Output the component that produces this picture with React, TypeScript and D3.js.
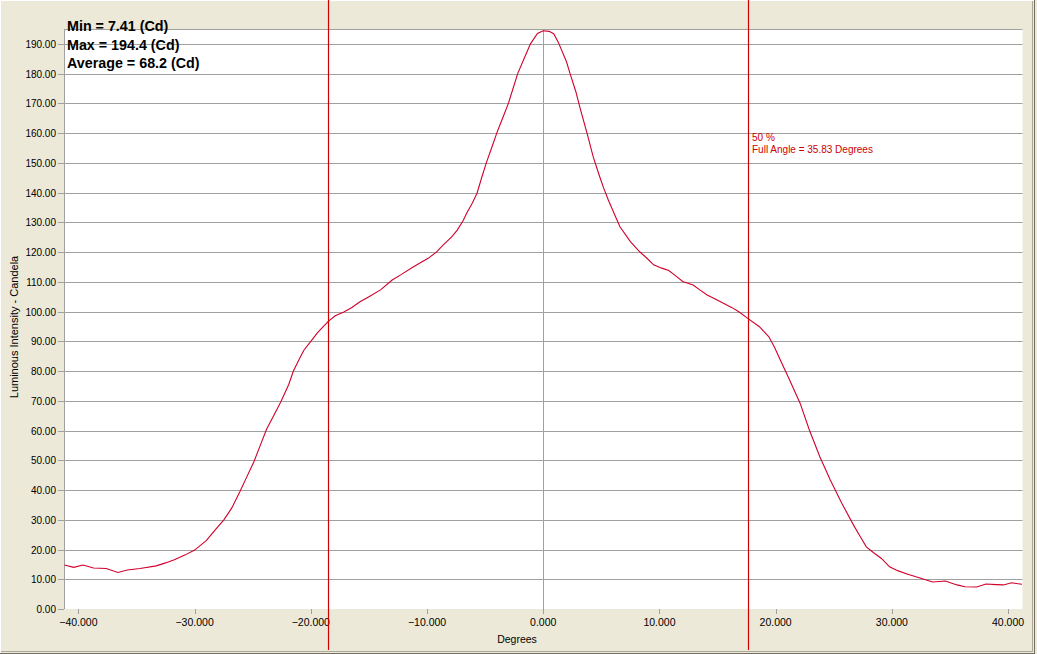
import { useMemo } from 'react';
import * as d3 from 'd3';

// angle in degrees and luminous intensity in candela
const angles = [
  -41.2, -40.4, -39.6, -38.7, -37.6, -36.6, -35.8, -34.7, -33.3, -32.5, -31.8, -30.8, -30.0, -29.0, -28.1, -27.5,
  -26.8, -26.1, -25.5, -24.9, -24.3, -23.8, -23.2, -22.6, -21.9, -21.5, -21.0, -20.6, -20.0, -19.4, -18.5, -17.9,
  -17.2, -16.5, -15.8, -15.0, -14.0, -13.0, -12.2, -11.2, -10.5, -9.9, -9.2, -8.6, -7.9, -7.4, -6.9, -6.6, -6.1,
  -5.7, -5.3, -4.9, -4.4, -4.0, -3.5, -3.0, -2.6, -2.2, -1.6, -1.1, -0.5, 0.0, 0.5, 0.9, 1.3, 2.0, 2.3, 2.8, 3.2,
  3.8, 4.3, 4.8, 5.2, 5.6, 6.1, 6.6, 7.5, 8.3, 8.9, 9.5, 10.2, 10.8, 11.4, 12.0, 12.9, 13.5, 14.1, 14.8, 15.5,
  16.2, 16.8, 17.6, 18.6, 19.4, 19.9, 20.4, 21.2, 22.1, 22.9, 23.8, 24.7, 25.7, 26.7, 27.3, 27.8, 28.4, 29.1,
  29.8, 30.5, 31.3, 32.0, 32.7, 33.5, 34.6, 35.6, 36.3, 37.3, 38.1, 39.0, 39.6, 40.3, 41.2,
];
const intensity = [
  14.8, 14.0, 14.8, 13.8, 13.6, 12.3, 13.1, 13.6, 14.5, 15.5, 16.5, 18.2, 19.8, 23.0, 27.2, 29.9,
  34.0, 39.5, 44.5, 49.5, 55.5, 60.5, 65.0, 69.5, 75.5, 80.0, 84.0, 87.0, 90.0, 93.0, 96.7, 98.6,
  99.8, 101.3, 103.2, 105.0, 107.3, 110.6, 112.5, 115.0, 116.6, 117.9, 120.0, 122.4, 125.0, 127.4, 130.5, 133.0, 136.5,
  139.8, 145.0, 150.0, 155.5, 160.0, 165.0, 170.0, 175.0, 180.0, 185.5, 190.0, 193.5, 194.4, 194.2, 193.4, 190.5, 184.0, 180.1, 174.0, 168.0,
  159.5, 152.0, 146.0, 141.5, 137.5, 133.0, 128.5, 123.5, 120.1, 118.0, 115.7, 114.6, 113.8, 112.0, 110.1, 108.9, 107.2, 105.6, 104.2, 102.8,
  101.4, 100.0, 97.7, 94.9, 91.6, 88.0, 83.7, 77.0, 69.2, 60.2, 51.2, 43.4, 35.5, 28.2, 24.2, 20.9, 19.0, 17.0,
  14.2, 12.9, 11.8, 10.9, 10.1, 9.1, 9.4, 8.1, 7.5, 7.4, 8.4, 8.2, 8.1, 8.8, 8.3,
];

const xTicks = [-40, -30, -20, -10, 0, 10, 20, 30, 40];
const yTicks = [0, 10, 20, 30, 40, 50, 60, 70, 80, 90, 100, 110, 120, 130, 140, 150, 160, 170, 180, 190];
const halfAngles = [-18.5, 17.6];
const statLines = ['Min = 7.41 (Cd)', 'Max = 194.4 (Cd)', 'Average = 68.2 (Cd)'];
const noteLines = ['50 %', 'Full Angle = 35.83 Degrees'];

const W = 1037;
const H = 654;
const plot = { left: 64, right: 1022.5, top: 29, bottom: 609 };
const font = '"Liberation Sans", Arial, sans-serif';

export default function App() {
  const x = useMemo(() => d3.scaleLinear().domain([-41.24, 41.24]).range([plot.left, plot.right]), []);
  const y = useMemo(() => d3.scaleLinear().domain([0, 195]).range([plot.bottom, plot.top]), []);
  const pts = angles.map((a, i) => [a, intensity[i]] as [number, number]);
  const line = d3.line<[number, number]>().x((d) => x(d[0])).y((d) => y(d[1]));
  const fy = d3.format('.2f');
  const fx = d3.format('.3f');

  return (
    <svg width={W} height={H} style={{ position: 'absolute', left: 0, top: 0, display: 'block' }} fontFamily={font}>
      <rect width={W} height={H} fill="#ece9d8" />
      <line x1={0} x2={1034} y1={0.5} y2={0.5} stroke="#ffffff" />
      <line x1={0.5} x2={0.5} y1={0} y2={653} stroke="#ffffff" />
      <line x1={1032.5} x2={1032.5} y1={1} y2={652} stroke="#aca899" />
      <line x1={1034.5} x2={1034.5} y1={0} y2={654} stroke="#716f64" />
      <line x1={1} x2={1033} y1={651.5} y2={651.5} stroke="#aca899" />
      <line x1={0} x2={1035} y1={653.5} y2={653.5} stroke="#716f64" />

      <rect x={plot.left} y={plot.top} width={plot.right - plot.left} height={plot.bottom - plot.top} fill="#ffffff" />
      <line x1={plot.left} x2={plot.right} y1={plot.top + 0.5} y2={plot.top + 0.5} stroke="#a0a0a0" />
      <line x1={plot.left + 0.5} x2={plot.left + 0.5} y1={plot.top} y2={plot.bottom} stroke="#a0a0a0" />

      {yTicks.map((t) => (
        <g key={t}>
          {t > 0 && (
            <line x1={plot.left} x2={plot.right} y1={Math.round(y(t)) + 0.5} y2={Math.round(y(t)) + 0.5} stroke="#a0a0a0" />
          )}
          <line x1={58} x2={plot.left} y1={Math.round(y(t)) + 0.5} y2={Math.round(y(t)) + 0.5} stroke="#a0a0a0" />
          <text x={56} y={Math.round(y(t)) + 4} fontSize={10} textAnchor="end" fill="#000">
            {fy(t)}
          </text>
        </g>
      ))}
      <line x1={Math.round(x(0)) + 0.5} x2={Math.round(x(0)) + 0.5} y1={plot.top} y2={plot.bottom} stroke="#a0a0a0" />

      {xTicks.map((t) => (
        <g key={t}>
          <line x1={Math.round(x(t)) + 0.5} x2={Math.round(x(t)) + 0.5} y1={plot.bottom} y2={plot.bottom + 5} stroke="#a0a0a0" />
          <text x={x(t)} y={626} fontSize={10.5} textAnchor="middle" fill="#000">
            {fx(t)}
          </text>
        </g>
      ))}

      <path d={line(pts) ?? ''} fill="none" stroke="#d0002a" strokeWidth={1.1} />

      {halfAngles.map((a) => (
        <line key={a} x1={Math.round(x(a)) + 0.5} x2={Math.round(x(a)) + 0.5} y1={0} y2={650} stroke="#d00000" strokeWidth={1.2} />
      ))}

      {noteLines.map((s, i) => (
        <text key={s} x={752} y={141 + i * 12} fontSize={10} fill="#cc0000">
          {s}
        </text>
      ))}

      {statLines.map((s, i) => (
        <text key={s} x={67} y={31 + i * 18.5} fontSize={14.3} fontWeight="bold" fill="#000">
          {s}
        </text>
      ))}

      <text x={517} y={643} fontSize={10.5} textAnchor="middle" fill="#000">
        Degrees
      </text>
      <text transform="translate(18,327) rotate(-90)" fontSize={11} textAnchor="middle" fill="#000">
        Luminous Intensity - Candela
      </text>
    </svg>
  );
}
